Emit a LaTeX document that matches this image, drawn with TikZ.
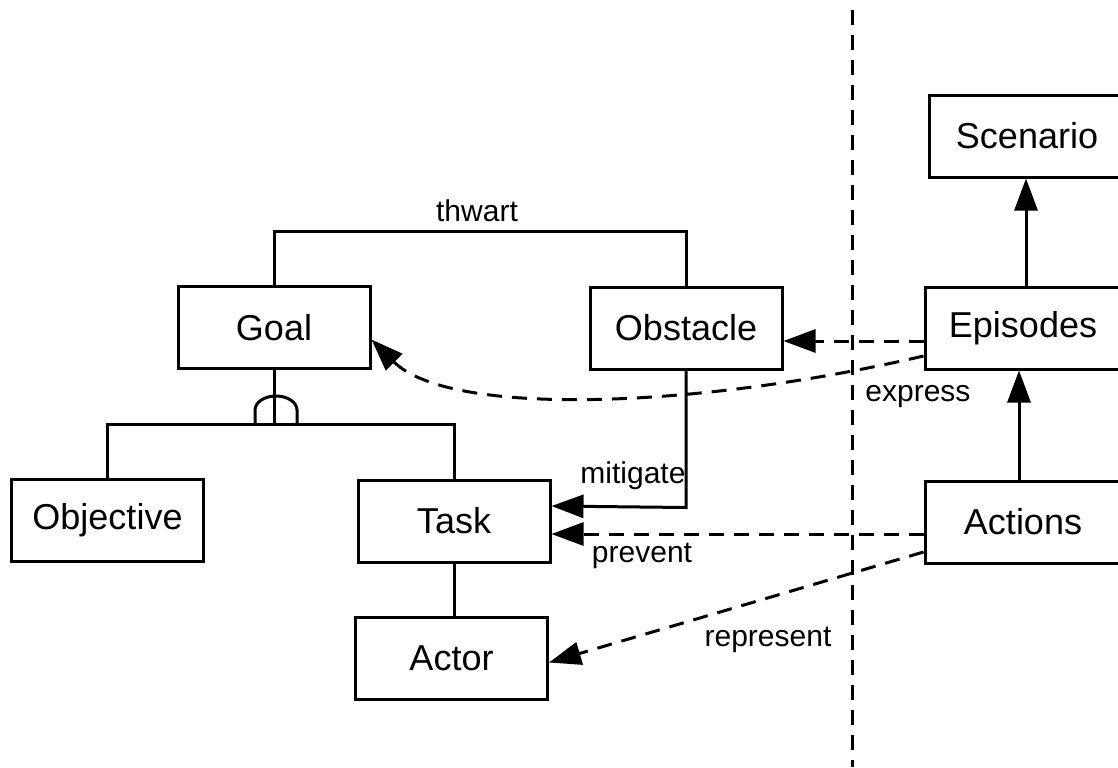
\documentclass[tikz,border=0pt]{standalone}
\usepackage{fontspec}
\setmainfont{Liberation Sans}
\usetikzlibrary{arrows.meta}
\begin{document}
\begin{tikzpicture}[x=0.5pt,y=-0.5pt,
  box/.style={draw,line width=1.5pt,minimum width=96pt,minimum height=41pt,inner sep=0pt,font=\fontsize{18}{20}\selectfont},
  rbox/.style={box,minimum width=104pt},
  lbl/.style={font=\fontsize{15}{17}\selectfont,inner sep=0pt},
  con/.style={line width=1.5pt},
  dsh/.style={line width=1.5pt,dash pattern=on 7.5pt off 5pt},
  arr/.style={-{Triangle[length=16pt,width=11.5pt]}}]
\useasboundingbox (0,0) rectangle (1118,767);
\clip (0,0) rectangle (1118,767);
% boxes
\node[box] (Goal) at (274,327.5) {Goal};
\node[box] (Obstacle) at (686,328) {Obstacle};
\node[box] (Objective) at (107.5,520) {Objective};
\node[box] (Task) at (454,521) {Task};
\node[box] (Actor) at (451.5,658.5) {Actor};
\node[rbox] (Scenario) at (1033,136) {\hspace*{-6pt}Scenario};
\node[rbox] (Episodes) at (1029,328) {\hspace*{-6pt}Episodes};
\node[rbox] (Actions) at (1029,522) {\hspace*{-6pt}Actions};
% divider
\coordinate (dtop) at (852,10);
\coordinate (dbot) at (852,767);
\draw[dsh] (dtop) -- (dbot);
% thwart
\draw[con] (Goal.north) -- ++(0,-54) -| (Obstacle.north);
\node[lbl] (thwart) at (477,211) {thwart};
% AND decomposition
\coordinate (andc) at (276,424);
\draw[con] (Goal.south) -- (Goal.south |- andc);
\draw[con] (Objective.north) -- (Objective.north |- andc) -- (Task.north |- andc) -- (Task.north);
\draw[con] (255,424) -- (255,410) arc[start angle=180,end angle=360,x radius=21,y radius=14] -- (297,424);
% Task - Actor
\draw[con] (Task.south) -- (Task.south |- Actor.north);
% mitigate
\draw[con,arr] (Obstacle.south) -- ++(0,137) -- ([yshift=7.5pt]Task.east);
\node[lbl] (mitigate) at (633,476) {mitigate};
% prevent
\draw[dsh,arr] ([yshift=-6pt]Actions.west) -- ([yshift=-6.5pt]Task.east);
\node[lbl] (prevent) at (642,556) {prevent};
% represent
\draw[dsh,arr] ([yshift=-15pt]Actions.west) -- ([yshift=-2pt]Actor.east);
\node[lbl] (represent) at (768,640) {represent};
% Episodes -> Obstacle
\draw[dsh,arr] ([yshift=-6.5pt]Episodes.west) -- ([yshift=-6.5pt]Obstacle.east);
% express
\draw[dsh,arr] ([yshift=-14pt]Episodes.west) .. controls (700,408) and (450,418) .. ([yshift=-6pt]Goal.east);
\node[lbl,anchor=west] (express) at (865,397) {express};
% vertical arrows
\draw[con,arr] ([xshift=-1.5pt]Episodes.north) -- ([xshift=-1.5pt]Episodes.north |- Scenario.south);
\draw[con,arr] ([xshift=-5pt]Actions.north) -- ([xshift=-5pt]Actions.north |- Episodes.south);
\end{tikzpicture}
\end{document}
